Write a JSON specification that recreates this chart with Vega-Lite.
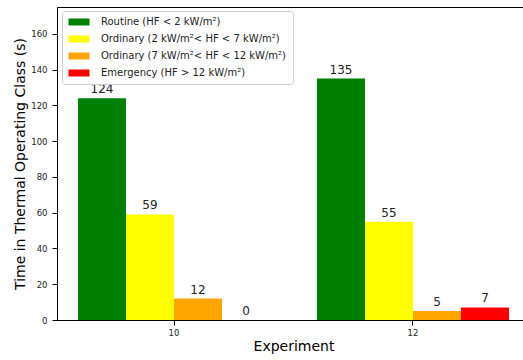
{
  "$schema": "https://vega.github.io/schema/vega-lite/v6.json",
  "width": 473,
  "height": 313,
  "padding": {"left": 13, "top": 7, "right": 5, "bottom": 5},
  "config": {
    "font": "DejaVu Sans",
    "view": {"stroke": "black", "strokeWidth": 1},
    "axis": {"grid": false, "domainColor": "black", "tickColor": "black", "labelColor": "#222222", "titleColor": "black", "titleFontWeight": "normal"}
  },
  "data": {
    "values": [
      {"Experiment": "10", "Class": "Routine (HF < 2 kW/m²)", "Time": 124},
      {"Experiment": "10", "Class": "Ordinary (2 kW/m²< HF < 7 kW/m²)", "Time": 59},
      {"Experiment": "10", "Class": "Ordinary (7 kW/m²< HF < 12 kW/m²)", "Time": 12},
      {"Experiment": "10", "Class": "Emergency (HF > 12 kW/m²)", "Time": 0},
      {"Experiment": "12", "Class": "Routine (HF < 2 kW/m²)", "Time": 135},
      {"Experiment": "12", "Class": "Ordinary (2 kW/m²< HF < 7 kW/m²)", "Time": 55},
      {"Experiment": "12", "Class": "Ordinary (7 kW/m²< HF < 12 kW/m²)", "Time": 5},
      {"Experiment": "12", "Class": "Emergency (HF > 12 kW/m²)", "Time": 7}
    ]
  },
  "encoding": {
    "x": {
      "field": "Experiment",
      "type": "nominal",
      "scale": {"paddingInner": 0.1967, "paddingOuter": 0.0879},
      "axis": {"labelAngle": 0, "title": "Experiment", "labelFontSize": 8.5, "tickSize": 5, "labelPadding": 3, "titleFontSize": 14, "titlePadding": 3}
    },
    "xOffset": {
      "field": "Class",
      "type": "nominal",
      "scale": {"domain": ["Routine (HF < 2 kW/m²)", "Ordinary (2 kW/m²< HF < 7 kW/m²)", "Ordinary (7 kW/m²< HF < 12 kW/m²)", "Emergency (HF > 12 kW/m²)"], "paddingInner": 0, "paddingOuter": 0}
    },
    "y": {
      "field": "Time",
      "type": "quantitative",
      "scale": {"domain": [0, 175], "nice": false},
      "axis": {"values": [0, 20, 40, 60, 80, 100, 120, 140, 160], "title": "Time in Thermal Operating Class (s)", "labelFontSize": 8.5, "tickSize": 5, "labelPadding": 5, "titleFontSize": 14, "titlePadding": 3}
    }
  },
  "layer": [
    {
      "mark": {"type": "bar"},
      "encoding": {
        "color": {
          "field": "Class",
          "type": "nominal",
          "scale": {"domain": ["Routine (HF < 2 kW/m²)", "Ordinary (2 kW/m²< HF < 7 kW/m²)", "Ordinary (7 kW/m²< HF < 12 kW/m²)", "Emergency (HF > 12 kW/m²)"], "range": ["#008000", "#ffff00", "#ffa500", "#ff0000"]},
          "legend": {
            "title": null,
            "orient": "none",
            "legendX": 5,
            "legendY": 4,
            "padding": 6,
            "fillColor": "rgba(255,255,255,0.8)",
            "strokeColor": "#cccccc",
            "cornerRadius": 3,
            "symbolType": "M-2.1,-0.7H2.1V0.7H-2.1Z",
            "symbolSize": 100,
            "symbolOffset": 6,
            "symbolStrokeWidth": 0,
            "symbolOpacity": 1,
            "labelFontSize": 10,
            "labelColor": "#222222",
            "labelLimit": 300,
            "labelOffset": 17,
            "rowPadding": 7
          }
        }
      }
    },
    {
      "mark": {"type": "text", "baseline": "alphabetic", "dy": -5, "fontSize": 12, "color": "#222222"},
      "encoding": {"text": {"field": "Time", "type": "quantitative"}}
    }
  ]
}
